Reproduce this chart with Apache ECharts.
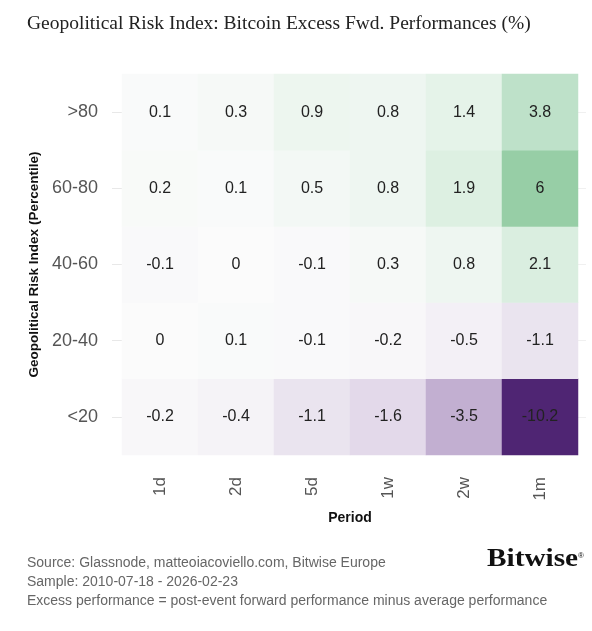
<!DOCTYPE html>
<html>
<head>
<meta charset="utf-8">
<script src="https://cdn.jsdelivr.net/npm/echarts@6/dist/echarts.min.js"></script>
<style>
html,body{margin:0;padding:0;background:#fff;}
#chart{width:592px;height:631px;}
</style>
</head>
<body>
<div id="chart"></div>
<script>
var periods = ['1d', '2d', '5d', '1w', '2w', '1m'];
var riskBuckets = ['<20', '20-40', '40-60', '60-80', '>80'];
var row_gt80 = [0.1, 0.3, 0.9, 0.8, 1.4, 3.8];
var row_60_80 = [0.2, 0.1, 0.5, 0.8, 1.9, 6];
var row_40_60 = [-0.1, 0, -0.1, 0.3, 0.8, 2.1];
var row_20_40 = [0, 0.1, -0.1, -0.2, -0.5, -1.1];
var row_lt20 = [-0.2, -0.4, -1.1, -1.6, -3.5, -10.2];
var rows = [row_lt20, row_20_40, row_40_60, row_60_80, row_gt80];

var data = [];
rows.forEach(function (r, yi) {
  r.forEach(function (v, xi) { data.push([xi, yi, v]); });
});

var chart = echarts.init(document.getElementById('chart'), null, {renderer: 'canvas'});
var sans = 'Liberation Sans, Arial, Helvetica, sans-serif';
chart.setOption({
  backgroundColor: '#ffffff',
  animation: false,
  title: {
    text: 'Geopolitical Risk Index: Bitcoin Excess Fwd. Performances (%)',
    left: 22, top: 9,
    textStyle: {fontFamily: 'Liberation Serif, Times New Roman, serif', fontSize: 19.5, fontWeight: 'normal', color: '#222'}
  },
  grid: {left: 122, right: 14, top: 74, bottom: 176},
  xAxis: {
    type: 'category', data: periods,
    name: 'Period', nameLocation: 'middle', nameGap: 56,
    nameTextStyle: {fontFamily: sans, fontSize: 14, fontWeight: 'bold', color: '#111'},
    axisLine: {show: false}, axisTick: {show: false}, splitLine: {show: false},
    axisLabel: {rotate: 90, margin: 22, fontFamily: sans, fontSize: 17, color: '#555'}
  },
  yAxis: [{
    type: 'category', data: riskBuckets,
    name: 'Geopolitical Risk Index (Percentile)', nameLocation: 'middle', nameGap: 80,
    nameTextStyle: {fontFamily: sans, fontSize: 13.5, fontWeight: 'bold', color: '#111'},
    axisLine: {show: false},
    axisTick: {show: true, alignWithLabel: true, length: 10, lineStyle: {color: '#e8e8e8'}},
    splitLine: {show: false},
    axisLabel: {margin: 24, fontFamily: sans, fontSize: 18, color: '#555'}
  }, {
    type: 'category', data: riskBuckets, position: 'right',
    axisLine: {show: false},
    axisTick: {show: true, alignWithLabel: true, length: 8, lineStyle: {color: '#f0f0f0'}},
    axisLabel: {show: false}, splitLine: {show: false}
  }],
  visualMap: {
    show: false, type: 'continuous', min: -10.2, max: 10.2, dimension: 2, seriesIndex: 0,
    inRange: {color: ['#4f2573', '#6a4a8a', '#8a71a3', '#a891bb', '#c4b1d2', '#e1d7e9', '#fbfbfb',
                      '#e0f1e5', '#c5e5cf', '#a8d6b4', '#88c69a', '#65b27b', '#3f9a5c']}
  },
  series: [{
    type: 'heatmap', data: data,
    label: {show: true, fontFamily: sans, fontSize: 16, color: '#222',
      formatter: function (p) { return String(p.value[2]); }},
    itemStyle: {borderWidth: 0},
    emphasis: {disabled: true}
  }],
  graphic: [
    {type: 'text', left: 27, top: 556, style: {text: 'Source: Glassnode, matteoiacoviello.com, Bitwise Europe', font: '14px ' + sans, fill: '#666'}},
    {type: 'text', left: 27, top: 575, style: {text: 'Sample: 2010-07-18 - 2026-02-23', font: '14px ' + sans, fill: '#666'}},
    {type: 'text', left: 27, top: 594, style: {text: 'Excess performance = post-event forward performance minus average performance', font: '14px ' + sans, fill: '#666'}},
    {type: 'text', x: 487, y: 547, scaleX: 1.17, style: {text: 'Bitwise', font: 'bold 25px Liberation Serif, Times New Roman, serif', fill: '#111'}},
    {type: 'text', x: 578, y: 552, style: {text: '®', font: '8px ' + sans, fill: '#111'}}
  ]
});
</script>
</body>
</html>
